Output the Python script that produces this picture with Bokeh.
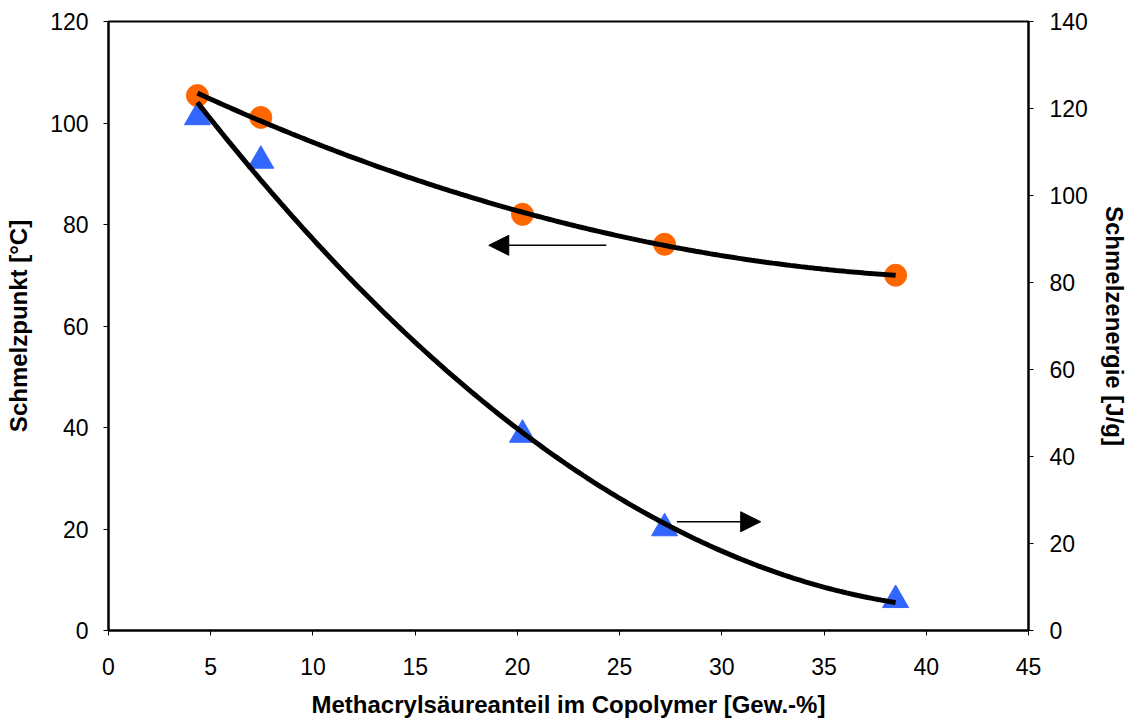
import numpy as np
from bokeh.plotting import figure
from bokeh.models import Range1d, LinearAxis, Arrow, NormalHead, SingleIntervalTicker
from bokeh.embed import file_html
from bokeh.resources import INLINE

# data
methacryl = [4.35, 7.45, 20.25, 27.2, 38.5]
schmelzpunkt = [105.4, 101.1, 82.0, 76.1, 70.0]
schmelzenergie = [118.0, 108.0, 45.0, 23.5, 7.0]

FONT = "Liberation Sans"

p = figure(width=1130, height=720, output_backend="svg", toolbar_location=None,
           x_range=Range1d(0, 45), y_range=Range1d(0, 120),
           min_border_left=108, min_border_right=98, min_border_top=21, min_border_bottom=80)
p.extra_y_ranges = {"energy": Range1d(0, 140)}
p.grid.visible = False
p.outline_line_color = "black"
p.outline_line_width = 2
p.background_fill_color = "white"
p.border_fill_color = "white"

def style_axis(ax, interval):
    ax.ticker = SingleIntervalTicker(interval=interval, num_minor_ticks=0)
    ax.axis_line_color = "black"
    ax.axis_line_width = 2
    ax.major_tick_line_color = "black"
    ax.major_tick_line_width = 1
    ax.major_tick_in = 0
    ax.major_tick_out = 5
    ax.minor_tick_line_color = None
    ax.major_label_text_font = FONT
    ax.major_label_text_font_size = "23px"
    ax.major_label_text_color = "black"
    ax.axis_label_text_font = FONT
    ax.axis_label_text_font_size = "24px"
    ax.axis_label_text_font_style = "bold"
    ax.axis_label_text_color = "black"

style_axis(p.xaxis[0], 5)
style_axis(p.yaxis[0], 20)
p.xaxis[0].axis_label = "Methacrylsäureanteil im Copolymer [Gew.-%]"
p.xaxis[0].major_label_standoff = 22
p.xaxis[0].axis_label_standoff = 13
p.yaxis[0].axis_label = "Schmelzpunkt [°C]"
p.yaxis[0].major_label_standoff = 15
p.yaxis[0].axis_label_standoff = 15
ry = LinearAxis(y_range_name="energy", axis_label="Schmelzenergie [J/g]")
style_axis(ry, 20)
ry.major_label_standoff = 16
ry.axis_label_standoff = 10
p.add_layout(ry, "right")

# trend lines (quadratic fits of the data)
xs = np.linspace(methacryl[0], methacryl[-1], 200)
c1 = np.polyfit(methacryl, schmelzpunkt, 2)
c2 = np.polyfit(methacryl, schmelzenergie, 2)

p.scatter(methacryl, schmelzpunkt, marker="circle", size=22,
          fill_color="#FF6600", line_color="#FF6600")
p.scatter(methacryl, schmelzenergie, marker="triangle", size=26,
          fill_color="#3366FF", line_color="#3366FF", y_range_name="energy")

p.line(xs, np.polyval(c1, xs), line_color="black", line_width=5)
p.line(xs, np.polyval(c2, xs), line_color="black", line_width=5, y_range_name="energy")

# arrows
p.add_layout(Arrow(x_start=24.35, y_start=75.9, x_end=18.6, y_end=75.9,
                   line_color="black", line_width=1.5,
                   end=NormalHead(size=20, fill_color="black", line_color="black")))
p.add_layout(Arrow(x_start=27.8, y_start=25.0, x_end=31.9, y_end=25.0,
                   line_color="black", line_width=1.5, y_range_name="energy",
                   end=NormalHead(size=20, fill_color="black", line_color="black")))

open("out.html", "w").write(file_html(p, INLINE))
